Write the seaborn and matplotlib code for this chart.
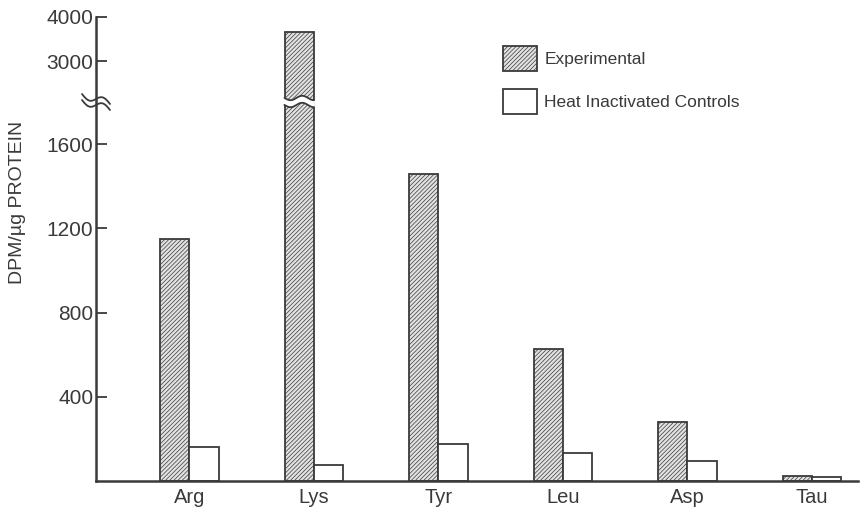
import numpy as np
import pandas as pd
import matplotlib
matplotlib.use("Agg")
import matplotlib.pyplot as plt
from matplotlib.lines import Line2D
from matplotlib.patches import Polygon, Patch
import seaborn as sns

sns.set_theme(style="white")
plt.rcParams['font.family'] = ['Liberation Sans', 'DejaVu Sans']
plt.rcParams['hatch.linewidth'] = 0.5

# data
amino_acids = ["Arg", "Lys", "Tyr", "Leu", "Asp", "Tau"]
experimental = [1150, 3660, 1460, 628, 278, 25]
heat_controls = [162, 75, 176, 135, 95, 18]
conditions = ["Experimental", "Heat Inactivated Controls"]

df = pd.DataFrame({
    "acid": amino_acids * 2,
    "condition": [conditions[0]] * len(amino_acids) + [conditions[1]] * len(amino_acids),
    "value": experimental + heat_controls,
})

W, H = 861, 507
INK = "#3a3a3a"
HATCH = "////////"


def fx(px):
    return px / W


def fy(py):
    return 1 - py / H


fig = plt.figure(figsize=(W / 100, H / 100), dpi=100)
left, right = 96, 858
ax_lo = fig.add_axes([fx(left), fy(481), fx(right) - fx(left), fy(102) - fy(481)])
ax_hi = fig.add_axes([fx(left), fy(100), fx(right) - fx(left), fy(17) - fy(100)])


def draw_bars(ax):
    sns.barplot(data=df, x="acid", y="value", hue="condition", hue_order=conditions,
                order=amino_acids, width=0.47, ax=ax, legend=False,
                palette=["#e2e2e2", "white"], edgecolor=INK, linewidth=1.3,
                errorbar=None)
    for bar in ax.patches[:len(amino_acids)]:
        bar.set_hatch(HATCH)
    ax.set_xlim(-0.75, 5.37)
    ax.set_xlabel("")
    ax.set_ylabel("")
    for side in ["top", "right"]:
        ax.spines[side].set_visible(False)
    ax.spines["left"].set_color(INK)
    ax.spines["left"].set_linewidth(1.8)
    ax.tick_params(axis="y", direction="in", length=8, width=1.3, color=INK,
                   labelsize=15, labelcolor=INK, pad=2, left=True)
    ax.patch.set_alpha(0)


draw_bars(ax_lo)
draw_bars(ax_hi)

ax_lo.set_ylim(0, 1800)
ax_lo.set_yticks([400, 800, 1200, 1600])
ax_lo.spines["bottom"].set_color(INK)
ax_lo.spines["bottom"].set_linewidth(1.8)
ax_lo.tick_params(axis="x", length=0, labelsize=14.5, labelcolor=INK, pad=5)

ax_hi.set_ylim(2114, 4000)
ax_hi.set_yticks([3000, 4000])
ax_hi.spines["bottom"].set_visible(False)
ax_hi.set_xticks([])

# break on the Lys bar: white wavy band with dark wavy edges
lys = ax_lo.patches[1]
x0, x1 = lys.get_x(), lys.get_x() + lys.get_width()
p0 = ax_lo.transData.transform((x0, 0))[0]
p1 = ax_lo.transData.transform((x1, 0))[0]
xs = np.linspace(p0 - 1, p1 + 1, 40)
wave = 2.2 * np.sin((xs - p0) / (p1 - p0) * 2.5 * np.pi)
top_edge = 98 + wave
bot_edge = 105 + wave
band = np.column_stack([np.r_[xs, xs[::-1]] / W, 1 - np.r_[top_edge, bot_edge[::-1]] / H])
fig.patches.append(Polygon(band, closed=True, transform=fig.transFigure,
                           facecolor="white", edgecolor="none", zorder=5))
for edge in (top_edge, bot_edge):
    fig.lines.append(Line2D(xs[1:-1] / W, 1 - edge[1:-1] / H, transform=fig.transFigure,
                            color=INK, lw=1.3, zorder=6))

# break symbol on the y axis
fig.patches.append(Polygon(np.column_stack([[left - 3, left + 3, left + 3, left - 3],
                                            1 - np.array([99, 99, 105, 105]) / H]),
                           transform=fig.transFigure, facecolor="white",
                           edgecolor="none", zorder=5))
t = np.linspace(-1, 1, 30)
for y0 in (99, 105):
    bx = left + 14 * t
    by = y0 + 5 * t - 4 * np.sin(np.pi * t)
    fig.lines.append(Line2D(bx / W, 1 - by / H, transform=fig.transFigure,
                            color=INK, lw=1.3, zorder=6))

# legend
handles = [Patch(facecolor="#e2e2e2", edgecolor=INK, hatch=HATCH, linewidth=1.3),
           Patch(facecolor="white", edgecolor=INK, linewidth=1.3)]
fig.legend(handles, conditions, loc="upper left", bbox_to_anchor=(fx(487), fy(30)),
           frameon=False, fontsize=12.5, labelcolor=INK, handlelength=2.0,
           handleheight=1.9, labelspacing=1.0, handletextpad=0.4)

fig.text(fx(18), fy(202), "DPM/\u00b5g PROTEIN", rotation=90, ha="center", va="center",
         fontsize=14, color=INK)

fig.savefig("out.png", dpi=100)
